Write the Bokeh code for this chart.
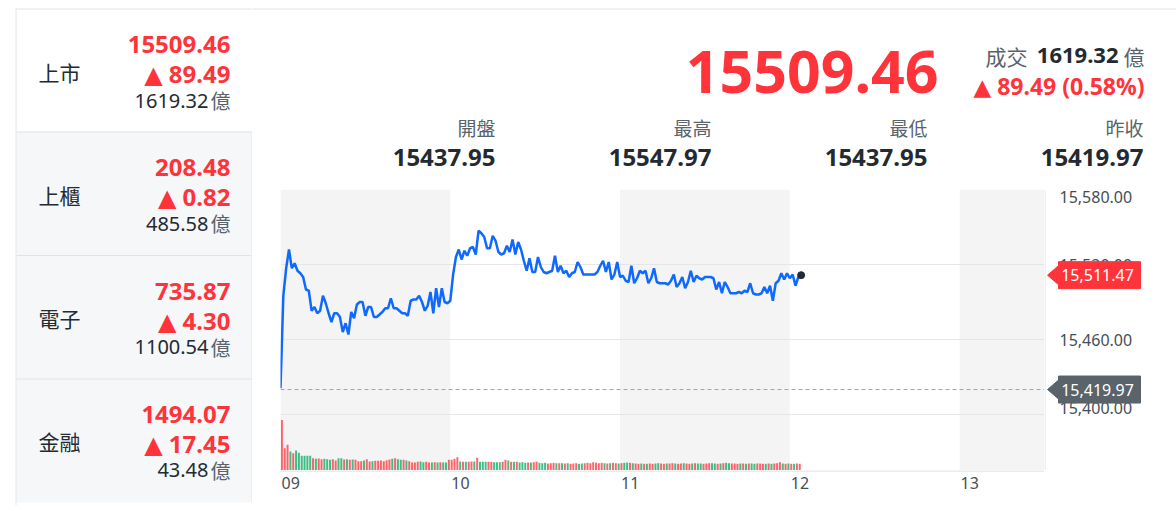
import numpy as np
from bokeh.plotting import figure
from bokeh.models import Range1d, FixedTicker, BoxAnnotation, Span, Grid
from bokeh.layouts import row, column
from bokeh.embed import file_html
from bokeh.resources import INLINE
from bokeh.core.properties import value

# ---------------- data ----------------
market_names = ["上市", "上櫃", "電子", "金融"]
market_index = [15509.46, 208.48, 735.87, 1494.07]
market_change = [89.49, 0.82, 4.30, 17.45]
market_turnover = [1619.32, 485.58, 1100.54, 43.48]

last_price = 15509.46
price_change = 89.49
change_pct = 0.58
turnover = 1619.32
stat_labels = ["開盤", "最高", "最低", "昨收"]
stat_values = [15437.95, 15547.97, 15437.95, 15419.97]
prev_close = 15419.97

hour_ticks = [9, 10, 11, 12, 13]
hour_labels = ["09", "10", "11", "12", "13"]
price_ticks = [15400, 15460, 15520, 15580]
shaded_hours = [(9, 10), (11, 12), (13, 13.5)]

# one point per minute from 09:00
prices = [
    15421, 15495, 15517, 15532, 15517, 15521, 15515, 15513, 15510, 15500,
    15499, 15483, 15486, 15481, 15483, 15495, 15489, 15481, 15474, 15481,
    15481, 15478, 15466, 15473, 15464, 15482, 15477, 15488, 15490, 15490,
    15479, 15486, 15486, 15478, 15478, 15480, 15482, 15485, 15485, 15493,
    15485, 15485, 15483, 15481, 15481, 15479, 15491, 15492, 15492, 15495,
    15490, 15483, 15487, 15498, 15481, 15501, 15486, 15501, 15490, 15489,
    15491, 15512, 15526, 15532, 15524, 15531, 15527, 15533, 15534, 15528,
    15547, 15545, 15542, 15533, 15533, 15543, 15539, 15530, 15528, 15529,
    15535, 15530, 15540, 15528, 15538, 15532, 15523, 15515, 15525, 15514,
    15514, 15526, 15518, 15514, 15513, 15514, 15515, 15527, 15514, 15519,
    15513, 15515, 15510, 15513, 15514, 15522, 15518, 15512, 15512, 15512,
    15512, 15512, 15514, 15519, 15523, 15514, 15522, 15508, 15512, 15522,
    15510, 15511, 15507, 15506, 15519, 15505, 15509, 15515, 15513, 15515,
    15505, 15509, 15517, 15506, 15505, 15505, 15505, 15504, 15507, 15512,
    15502, 15505, 15510, 15501, 15506, 15515, 15506, 15511, 15509, 15508,
    15510, 15510, 15510, 15509, 15500, 15506, 15497, 15506, 15502, 15497,
    15497, 15497, 15498, 15497, 15499, 15498, 15505, 15497, 15496, 15496,
    15497, 15502, 15497, 15503, 15491, 15505, 15507, 15513, 15508, 15513,
    15509, 15512, 15503, 15510, 15511.47,
]

# per-minute turnover (億)
volumes = [
    50.7, 22.3, 25.7, 19.0, 17.3, 20.0, 17.7, 14.7, 14.7, 14.7,
    14.7, 12.3, 11.7, 12.0, 11.3, 11.7, 11.3, 10.7, 11.3, 10.0,
    12.3, 12.3, 11.0, 11.3, 10.7, 11.0, 10.7, 9.3, 9.3, 10.0,
    11.3, 9.0, 9.3, 9.7, 9.7, 10.0, 9.3, 10.3, 11.0, 11.7,
    12.3, 11.3, 10.7, 10.7, 10.0, 9.3, 8.0, 8.0, 8.7, 9.0,
    8.3, 8.7, 8.0, 8.0, 8.3, 8.0, 8.3, 8.0, 8.0, 10.7,
    10.7, 11.7, 13.3, 9.0, 8.7, 8.7, 8.7, 9.0, 9.0, 12.7,
    8.7, 8.7, 8.7, 8.7, 8.7, 8.3, 8.3, 8.3, 8.7, 10.7,
    10.0, 8.7, 8.7, 8.7, 8.0, 8.3, 7.7, 8.0, 8.0, 8.3,
    9.0, 7.7, 7.3, 7.7, 7.0, 7.3, 7.7, 7.3, 7.3, 7.3,
    7.0, 7.3, 6.7, 7.0, 7.3, 6.7, 7.0, 7.3, 7.7, 7.3,
    8.3, 7.7, 7.3, 7.7, 7.3, 7.0, 7.3, 7.7, 7.3, 7.0,
    7.3, 7.7, 8.0, 7.7, 7.3, 7.0, 6.7, 7.0, 6.7, 6.7,
    7.0, 6.7, 7.0, 7.3, 7.0, 6.7, 7.0, 7.0, 7.3, 7.0,
    6.7, 7.0, 7.3, 7.0, 6.7, 7.0, 7.3, 7.0, 7.0, 6.7,
    7.0, 7.3, 7.3, 7.0, 6.7, 7.0, 7.3, 7.7, 7.3, 7.0,
    7.0, 6.7, 7.0, 7.0, 6.7, 7.0, 7.0, 6.7, 7.0, 7.0,
    6.7, 6.7, 7.0, 6.7, 7.0, 7.3, 8.3, 7.0, 6.7, 7.0,
    6.7, 6.7, 7.0, 6.7,
]

# ---------------- style ----------------
RED = "#ff333a"
GREEN = "#00ab5e"
DARK = "#232a31"
GRAY = "#5b636a"
TAG_GRAY = "#5b636a"
AXIS_TXT = "#464e56"
BORDER = "#e0e4e9"
PANEL = "#f5f7f9"
BAND = "#f4f4f4"
BLUE = "#0f69ff"
LATIN = "Noto Sans"
CJK = "Noto Sans CJK TC"
SYM = "Noto Sans, DejaVu Sans"


def plain(**kw):
    p = figure(x_axis_location=None, y_axis_location=None,
               output_backend="svg", toolbar_location=None, **kw)
    p.outline_line_color = None
    p.background_fill_color = "white"
    p.border_fill_color = "white"
    p.frame_align = False
    for g in p.grid:
        g.visible = False
    return p


def txt(p, x, y, s, size, color, align="left", bold=False, font=LATIN):
    p.text(x=[x], y=[y], text=[s], text_font=value(font),
           text_font_size=f"{size}px", text_color=color, text_align=align,
           text_baseline="middle", text_font_style="bold" if bold else "normal")


# ---------------- left panel (page px coords) ----------------
L = plain(width=252, height=505, x_range=Range1d(0, 252), y_range=Range1d(505, 0), min_border=0)
L.quad(left=[16], right=[251], top=[131], bottom=[502], fill_color=PANEL, line_color=None)
L.segment(x0=[15.5, 15, 16, 16, 16, 251.5], y0=[8, 8.5, 131.5, 255, 378.5, 131],
          x1=[15.5, 252, 251, 251, 251, 251.5], y1=[505, 8.5, 131.5, 255, 378.5, 502],
          line_color=BORDER, line_width=1)

for k, name in enumerate(market_names):
    c = 71 + k * 123.3
    txt(L, 38, c, name, 21, DARK, "left", font=CJK)
    txt(L, 230, c - 27, f"{market_index[k]:.2f}", 24, RED, "right", bold=True)
    txt(L, 230, c + 2, f"▲ {market_change[k]:.2f}", 24, RED, "right", bold=True, font=SYM)
    txt(L, 208, c + 29, f"{market_turnover[k]:.2f}", 20, DARK, "right")
    txt(L, 230, c + 29, "億", 20, GRAY, "right", font=CJK)

# ---------------- header ----------------
H = plain(width=924, height=178, x_range=Range1d(252, 1176), y_range=Range1d(178, 0), min_border=0)
H.segment(x0=[252], y0=[8.5], x1=[1176], y1=[8.5], line_color=BORDER, line_width=1)
txt(H, 938, 71, f"{last_price:.2f}", 59, RED, "right", bold=True)
txt(H, 1027, 55, "成交", 21, GRAY, "right", font=CJK)
txt(H, 1118, 55, f"{turnover:.2f}", 22, DARK, "right", bold=True)
txt(H, 1144, 55, "億", 21, GRAY, "right", font=CJK)
txt(H, 1144, 85, f"▲ {price_change:.2f} ({change_pct:.2f}%)", 23, RED, "right", bold=True, font=SYM)
for k, lab in enumerate(stat_labels):
    x = 495 + k * 216
    txt(H, x, 127, lab, 19, GRAY, "right", font=CJK)
    txt(H, x, 157, f"{stat_values[k]:.2f}", 24, DARK, "right", bold=True)

# ---------------- chart ----------------
times = 9 + np.arange(len(prices)) / 60.0
bar_x = 9 + (np.arange(len(volumes)) + 0.5) / 60.0
bar_colors = [RED if prices[i + 1] >= prices[i] else GREEN for i in range(len(volumes))]

price_range = Range1d(15355.2, 15580)
time_range = Range1d(9, 13.5)

C = plain(width=792, height=292, x_range=time_range, y_range=price_range,
          min_border_left=28, min_border_right=0, min_border_top=11, min_border_bottom=0)
C.extra_y_ranges = {"vol": Range1d(0, max(volumes) / 0.18)}

for a, b in shaded_hours:
    C.add_layout(BoxAnnotation(left=a, right=b, fill_color=BAND, fill_alpha=1.0,
                               line_color=None, level="image"))
C.add_layout(Grid(dimension=1, ticker=FixedTicker(ticks=price_ticks),
                  grid_line_color="#e6e6e6", grid_line_width=1))

C.vbar(x=bar_x, top=volumes, width=0.7 / 60, y_range_name="vol",
       fill_color=bar_colors, line_color=None, fill_alpha=0.75)

C.add_layout(Span(location=prev_close, dimension="width", line_color="#a0a5aa",
                  line_dash="4 3", line_width=1))

C.line(times, prices, line_color=BLUE, line_width=2.5)
C.scatter([times[-1]], [prices[-1]], size=7, fill_color=DARK, line_color=DARK)

# ---------------- price scale (right) ----------------
R = plain(width=132, height=292, x_range=Range1d(1044, 1176), y_range=price_range,
          min_border_left=0, min_border_right=0, min_border_top=11, min_border_bottom=0)
R.segment(x0=[1044.5], y0=[price_range.start], x1=[1044.5], y1=[price_range.end],
          line_color=BORDER, line_width=1)
lab_off = [7 if t == max(price_ticks) else (-7 if t == min(price_ticks) else 0) for t in price_ticks]
R.text(x=[1059] * len(price_ticks), y=price_ticks, text=[f"{t:,.2f}" for t in price_ticks],
       y_offset=lab_off, text_font=value(LATIN), text_font_size="16px",
       text_color=AXIS_TXT, text_align="left", text_baseline="middle")

px = 1.0 / 1.25  # price units per screen pixel on this scale
for val, col in [(prices[-1], RED), (prev_close, TAG_GRAY)]:
    h, t = 13.5 * px, 9.5 * px
    R.patch(x=[1047, 1058, 1058, 1140, 1140, 1058, 1058],
            y=[val, val + t, val + h, val + h, val - h, val - h, val - t],
            fill_color=col, line_color=col, line_width=1)
    R.text(x=[1097], y=[val], text=[f"{val:,.2f}"], text_font=value(LATIN),
           text_font_size="16px", text_color="white", text_align="center",
           text_baseline="middle")

# ---------------- time axis (below) ----------------
X = plain(width=924, height=35, x_range=time_range, y_range=Range1d(505, 470),
          min_border_left=28, min_border_right=132, min_border_top=0, min_border_bottom=0)
X.segment(x0=[time_range.start], y0=[470.5], x1=[time_range.end], y1=[470.5],
          line_color="#d3d8dd", line_width=1)
X.text(x=hour_ticks, y=[482] * len(hour_ticks), text=hour_labels, x_offset=1,
       text_font=value(LATIN), text_font_size="16px", text_color=AXIS_TXT,
       text_align="left", text_baseline="middle")

# bottom border
B = plain(width=1176, height=3, x_range=Range1d(0, 1176), y_range=Range1d(508, 505), min_border=0)
B.segment(x0=[15], y0=[506.5], x1=[1176], y1=[506.5], line_color=BORDER, line_width=1)

page = column(row(L, column(H, row(C, R), X)), B)
open("out.html", "w").write(file_html(page, INLINE))
